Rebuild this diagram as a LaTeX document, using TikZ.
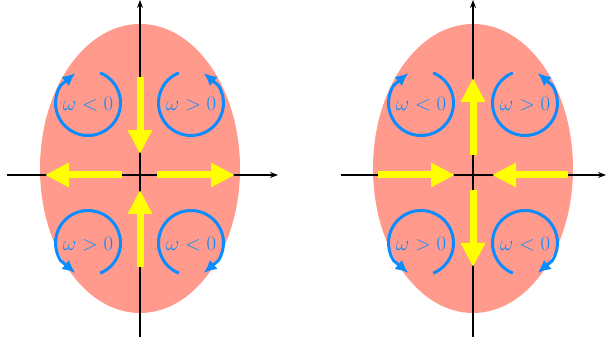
\documentclass[tikz,border=0pt]{standalone}
\usetikzlibrary{arrows.meta,calc}
\definecolor{salmonfill}{RGB}{255,154,140}
\definecolor{rotblue}{RGB}{10,140,255}
\definecolor{flowyellow}{RGB}{255,255,0}
\newcommand\rotarc[4]{\draw[rot] ($(#1)+(#2:32.5)$) arc[start angle=#2, end angle=#3, radius=32.5] -- ($(#1)+(#4:32.5)$);}
\begin{document}
\begin{tikzpicture}[x=1pt,y=1pt,
  region/.style={fill=salmonfill, draw=none},
  axis/.style={line width=1.2pt, -{Stealth[length=8pt,width=6pt]}},
  flow/.style={line width=7pt, flowyellow, -{Triangle[length=24pt,width=23pt]}},
  rot/.style={line width=3pt, rotblue, -{Latex[length=13pt,width=12pt]}},
  lab/.style={text=rotblue, font=\fontsize{20.5}{24}\selectfont, inner sep=0pt}]
\useasboundingbox (0,0) rectangle (607,345);
% ellipses
\fill[region] (140,176.5) ellipse [x radius=100, y radius=144.5];
\fill[region] (473,176.5) ellipse [x radius=100, y radius=144.5];
% axes
\draw[axis] (7,170) -- (278,170);
\draw[axis] (140,8) -- (140,345);
\draw[axis] (341,170) -- (606,170);
\draw[axis] (473,8) -- (473,345);
% yellow flows left
\draw[flow] (140,268) -- (140,191);
\draw[flow] (140,78) -- (140,155);
\draw[flow] (122,170) -- (45,170);
\draw[flow] (157,170) -- (235,170);
% yellow flows right
\draw[flow] (473,155) -- (473,78);
\draw[flow] (473,190) -- (473,267);
\draw[flow] (378,170) -- (455,170);
\draw[flow] (568,170) -- (492,170);
% circle centres
\coordinate (cTL1) at (88,242);
\coordinate (cTR1) at (191,242);
\coordinate (cBL1) at (88,102);
\coordinate (cBR1) at (191,102);
\coordinate (cTL2) at (421,242);
\coordinate (cTR2) at (525,242);
\coordinate (cBL2) at (421,102);
\coordinate (cBR2) at (525,102);
% rotation arcs
\rotarc{cTL1}{68}{-213}{113}
\rotarc{cTR1}{112}{393}{67}
\rotarc{cBL1}{-68}{213}{-113}
\rotarc{cBR1}{-112}{-393}{-67}
\rotarc{cTL2}{68}{-213}{113}
\rotarc{cTR2}{112}{393}{67}
\rotarc{cBL2}{-68}{213}{-113}
\rotarc{cBR2}{-112}{-393}{-67}
% labels
\node[lab] (tl1) at ($(cTL1)+(0,-1)$) {$\omega<0$};
\node[lab] (tr1) at ($(cTR1)+(0,-1)$) {$\omega>0$};
\node[lab] (bl1) at ($(cBL1)+(0,-1)$) {$\omega>0$};
\node[lab] (br1) at ($(cBR1)+(0,-1)$) {$\omega<0$};
\node[lab] (tl2) at ($(cTL2)+(0,-1)$) {$\omega<0$};
\node[lab] (tr2) at ($(cTR2)+(0,-1)$) {$\omega>0$};
\node[lab] (bl2) at ($(cBL2)+(0,-1)$) {$\omega>0$};
\node[lab] (br2) at ($(cBR2)+(0,-1)$) {$\omega<0$};
\end{tikzpicture}
\end{document}
